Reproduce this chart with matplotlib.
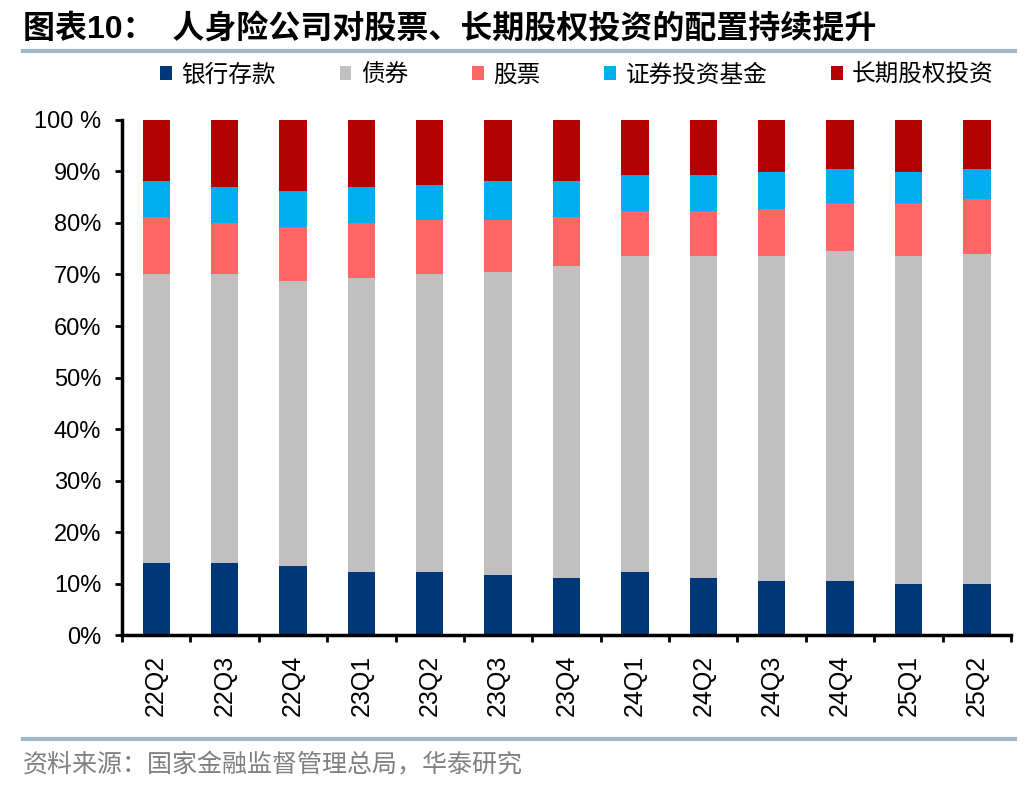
import matplotlib
matplotlib.use('Agg')
from matplotlib import pyplot
from matplotlib.lines import Line2D
import numpy

pyplot.rcParams['font.family'] = ['Liberation Sans', 'Noto Sans CJK SC', 'DejaVu Sans']

quarters = ["22Q2", "22Q3", "22Q4", "23Q1", "23Q2", "23Q3", "23Q4",
            "24Q1", "24Q2", "24Q3", "24Q4", "25Q1", "25Q2"]
# shares in percent
deposits = [14.0, 14.0, 13.4, 12.2, 12.2, 11.7, 11.1, 12.2, 11.1, 10.5, 10.5, 9.9, 9.9]
bonds = [56.0, 56.0, 55.4, 57.2, 57.8, 58.8, 60.6, 61.3, 62.4, 63.0, 64.1, 63.6, 64.1]
stocks = [11.2, 10.0, 10.5, 10.6, 10.5, 10.0, 9.4, 8.8, 8.8, 9.3, 9.3, 10.4, 10.6]
funds = [6.9, 6.9, 7.0, 6.9, 6.9, 7.6, 7.0, 7.0, 7.0, 7.1, 6.5, 6.0, 5.8]
long_equity = [100 - a - b - c - d for a, b, c, d in zip(deposits, bonds, stocks, funds)]

series_names = ["银行存款", "债券", "股票", "证券投资基金", "长期股权投资"]
series_values = [deposits, bonds, stocks, funds, long_equity]
colors = ["#003778", "#C0C0C0", "#FF6666", "#00AEEF", "#B30000"]
ytick_labels = ["0%", "10%", "20%", "30%", "40%", "50%", "60%", "70%", "80%", "90%", "100 %"]

fig = pyplot.figure(figsize=(10.36, 7.92), dpi=100)
ax = fig.add_axes([0.1178, 0.1982, 0.8581, 0.6503])

x = numpy.arange(len(quarters))
bottom = numpy.zeros(len(quarters))
for name, vals, col in zip(series_names, series_values, colors):
    ax.bar(x, vals, width=0.4, bottom=bottom, color=col, label=name)
    bottom += numpy.array(vals)

ax.set_xlim(-0.5, len(quarters) - 0.5)
ax.set_ylim(0, 100)
ax.set_yticks(range(0, 101, 10))
ax.set_yticklabels(ytick_labels, fontsize=17)
ax.set_xticks(x)
ax.set_xticklabels(quarters, rotation=90, fontsize=18)
ax.tick_params(axis='x', length=0, pad=14)
ax.set_xticks(numpy.arange(-0.5, len(quarters), 1), minor=True)
ax.tick_params(axis='x', which='minor', length=5, width=2, direction='out')
ax.tick_params(axis='y', length=5, width=2, direction='out', pad=10)
for s in ['top', 'right']:
    ax.spines[s].set_visible(False)
for s in ['left', 'bottom']:
    ax.spines[s].set_linewidth(2.5)

# title and rules
fig.text(0.022, 0.962, "图表10：  人身险公司对股票、长期股权投资的配置持续提升",
         fontsize=23, fontweight='bold', va='center', ha='left')
fig.add_artist(Line2D([0.022, 0.98], [0.935, 0.935], color="#9FB6CD", linewidth=3))
fig.add_artist(Line2D([0.022, 0.98], [0.067, 0.067], color="#9FB6CD", linewidth=3))
fig.text(0.022, 0.034, "资料来源：国家金融监督管理总局，华泰研究",
         fontsize=18, color="#808080", va='center', ha='left')

handles, labels = ax.get_legend_handles_labels()
fig.legend(handles, labels, loc='center', bbox_to_anchor=(0.557, 0.905), ncol=5,
           frameon=False, fontsize=17, handlelength=0.5, handleheight=0.5,
           handletextpad=0.4, columnspacing=2.7)

pyplot.savefig("out.png", dpi=100)
